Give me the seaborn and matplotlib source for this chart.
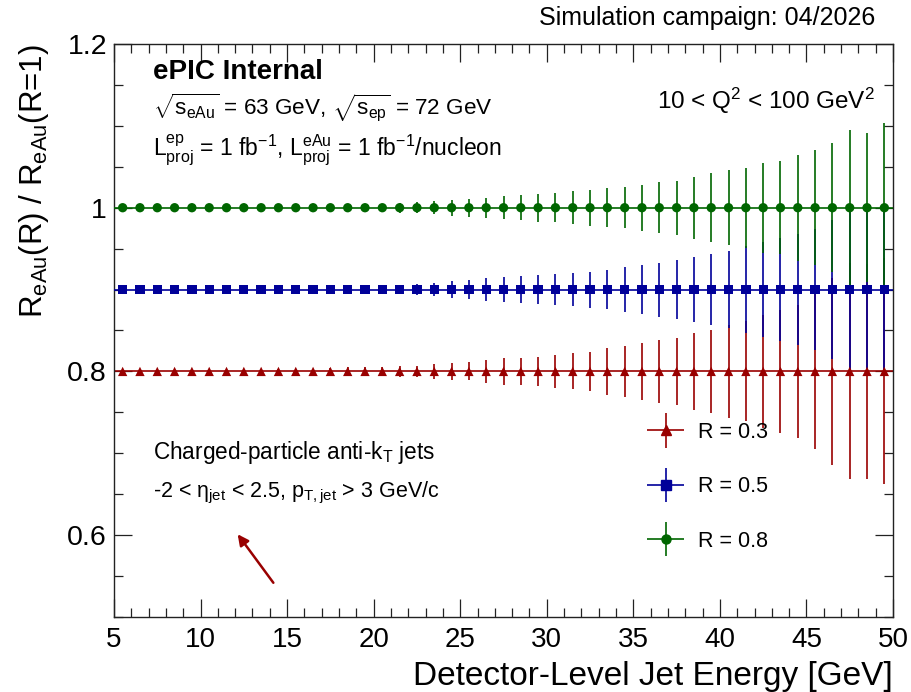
import numpy as np
import pandas as pd
import matplotlib
matplotlib.use("Agg")
import matplotlib.pyplot as plt
import seaborn as sns
from matplotlib.ticker import MultipleLocator, FixedLocator, FuncFormatter
from matplotlib.legend_handler import HandlerErrorbar
from matplotlib.container import ErrorbarContainer

# ---------------- data ----------------
energy = [5.5, 6.5, 7.5, 8.5, 9.5, 10.5, 11.5, 12.5, 13.5, 14.5, 15.5, 16.5, 17.5, 18.5, 19.5,
          20.5, 21.5, 22.5, 23.5, 24.5, 25.5, 26.5, 27.5, 28.5, 29.5, 30.5, 31.5, 32.5, 33.5, 34.5,
          35.5, 36.5, 37.5, 38.5, 39.5, 40.5, 41.5, 42.5, 43.5, 44.5, 45.5, 46.5, 47.5, 48.5, 49.5]

ratio_r03 = [0.8, 0.8, 0.8, 0.8, 0.8, 0.8, 0.8, 0.8, 0.8, 0.8, 0.8, 0.8, 0.8, 0.8, 0.8,
             0.8, 0.8, 0.8, 0.8, 0.8, 0.8, 0.8, 0.8, 0.8, 0.8, 0.8, 0.8, 0.8, 0.8, 0.8,
             0.8, 0.8, 0.8, 0.8, 0.8, 0.8, 0.8, 0.8, 0.8, 0.8, 0.8, 0.8, 0.8, 0.8, 0.8]
ratio_r05 = [0.9, 0.9, 0.9, 0.9, 0.9, 0.9, 0.9, 0.9, 0.9, 0.9, 0.9, 0.9, 0.9, 0.9, 0.9,
             0.9, 0.9, 0.9, 0.9, 0.9, 0.9, 0.9, 0.9, 0.9, 0.9, 0.9, 0.9, 0.9, 0.9, 0.9,
             0.9, 0.9, 0.9, 0.9, 0.9, 0.9, 0.9, 0.9, 0.9, 0.9, 0.9, 0.9, 0.9, 0.9, 0.9]
ratio_r08 = [1.0, 1.0, 1.0, 1.0, 1.0, 1.0, 1.0, 1.0, 1.0, 1.0, 1.0, 1.0, 1.0, 1.0, 1.0,
             1.0, 1.0, 1.0, 1.0, 1.0, 1.0, 1.0, 1.0, 1.0, 1.0, 1.0, 1.0, 1.0, 1.0, 1.0,
             1.0, 1.0, 1.0, 1.0, 1.0, 1.0, 1.0, 1.0, 1.0, 1.0, 1.0, 1.0, 1.0, 1.0, 1.0]

err_r03 = [0.001, 0.001, 0.001, 0.001, 0.001, 0.002, 0.002, 0.002, 0.002, 0.003, 0.003, 0.003, 0.004, 0.005, 0.006,
           0.006, 0.007, 0.007, 0.009, 0.010, 0.011, 0.014, 0.016, 0.017, 0.018, 0.020, 0.022, 0.024, 0.029, 0.031,
           0.035, 0.039, 0.041, 0.047, 0.051, 0.057, 0.061, 0.069, 0.075, 0.081, 0.095, 0.114, 0.132, 0.131, 0.138]
err_r05 = [0.001, 0.001, 0.001, 0.001, 0.001, 0.001, 0.002, 0.002, 0.002, 0.002, 0.003, 0.003, 0.003, 0.004, 0.004,
           0.005, 0.006, 0.007, 0.008, 0.010, 0.012, 0.014, 0.015, 0.016, 0.018, 0.019, 0.020, 0.022, 0.024, 0.027,
           0.030, 0.033, 0.036, 0.040, 0.043, 0.047, 0.053, 0.058, 0.063, 0.068, 0.074, 0.085, 0.098, 0.098, 0.100]
err_r08 = [0.001, 0.001, 0.001, 0.001, 0.001, 0.001, 0.002, 0.002, 0.002, 0.002, 0.003, 0.003, 0.003, 0.004, 0.004,
           0.005, 0.006, 0.007, 0.008, 0.010, 0.011, 0.012, 0.014, 0.015, 0.017, 0.018, 0.020, 0.022, 0.024, 0.025,
           0.028, 0.031, 0.033, 0.038, 0.042, 0.046, 0.049, 0.055, 0.057, 0.065, 0.070, 0.079, 0.095, 0.091, 0.103]

bin_half_width = [0.5] * len(energy)

series_labels = ["R = 0.3", "R = 0.5", "R = 0.8"]
series_colors = ["#990000", "#000099", "#006600"]
series_markers = ["^", "s", "o"]

x_ticks = [5, 10, 15, 20, 25, 30, 35, 40, 45, 50]
y_ticks = [0.6, 0.8, 1.0, 1.2]

# ---------------- style ----------------
sns.set_theme(style="ticks")
plt.rcParams["font.family"] = ["Liberation Sans", "DejaVu Sans"]
plt.rcParams["mathtext.fontset"] = "custom"
plt.rcParams["mathtext.rm"] = "Liberation Sans"
plt.rcParams["mathtext.it"] = "Liberation Sans"
plt.rcParams["mathtext.bf"] = "Liberation Sans:bold"
plt.rcParams["mathtext.sf"] = "Liberation Sans"
plt.rcParams["text.color"] = "black"
plt.rcParams["axes.labelcolor"] = "black"
plt.rcParams["xtick.color"] = "black"
plt.rcParams["ytick.color"] = "black"

W, H = 912, 692
fig = plt.figure(figsize=(W / 100, H / 100), dpi=100)
ax = fig.add_axes([114 / W, 1 - 617 / H, (893 - 114) / W, (617 - 44) / H])

def fx(px):
    return px / W

def fy(py):
    return 1 - py / H

# long-form table for seaborn
frames = []
for lab, vals, errs in zip(series_labels, [ratio_r03, ratio_r05, ratio_r08], [err_r03, err_r05, err_r08]):
    frames.append(pd.DataFrame({"energy": energy, "ratio": vals, "err": errs, "xerr": bin_half_width, "series": lab}))
df = pd.concat(frames, ignore_index=True)

# error bars (horizontal bin width + vertical uncertainties)
for i, (lab, col) in enumerate(zip(series_labels, series_colors)):
    sub = df[df["series"] == lab]
    ax.errorbar(sub["energy"], sub["ratio"], xerr=sub["xerr"], yerr=sub["err"],
                fmt="none", ecolor=col, elinewidth=1.2, capsize=0, zorder=2 + i)

# markers via seaborn
sns.scatterplot(data=df, x="energy", y="ratio", hue="series", style="series",
                palette=dict(zip(series_labels, series_colors)),
                markers=dict(zip(series_labels, series_markers)),
                s=45, linewidth=0, legend=False, ax=ax, zorder=6)

# legend proxies
handles = []
for lab, col, mk in zip(series_labels, series_colors, series_markers):
    h = ax.errorbar([np.nan], [np.nan], xerr=[0.5], yerr=[0.05], fmt=mk, color=col,
                    ecolor=col, elinewidth=1.2, markersize=6.5, capsize=0, label=lab)
    handles.append(h)
leg = ax.legend(handles, series_labels, loc="upper left",
                bbox_to_anchor=(fx(644), fy(422)), bbox_transform=fig.transFigure,
                frameon=False, fontsize=15.5, handlelength=2.0, handletextpad=0.5,
                labelspacing=1.55, borderpad=0, borderaxespad=0,
                handler_map={ErrorbarContainer: HandlerErrorbar(xerr_size=0.85, yerr_size=0.8)})

# axes
ax.set_xlim(5, 50)
ax.set_ylim(0.5, 1.2)
ax.xaxis.set_major_locator(FixedLocator(x_ticks))
ax.xaxis.set_minor_locator(MultipleLocator(1))
ax.yaxis.set_major_locator(FixedLocator(y_ticks))
ax.yaxis.set_minor_locator(MultipleLocator(0.05))
ax.yaxis.set_major_formatter(FuncFormatter(lambda v, p: "%g" % v))
ax.tick_params(which="both", direction="in", top=True, right=True, color="#222222", width=0.9)
ax.tick_params(which="major", length=13)
ax.tick_params(which="minor", length=6.5)
ax.tick_params(axis="x", which="major", labelsize=20, pad=7)
ax.tick_params(axis="y", which="major", labelsize=20.5, pad=5)
for sp in ax.spines.values():
    sp.set_linewidth(1.0)
    sp.set_color("#222222")
ax.set_xlabel("Detector-Level Jet Energy [GeV]", fontsize=24, loc="right", labelpad=6)
ax.set_ylabel(r"R$_{\mathrm{eAu}}$(R) / R$_{\mathrm{eAu}}$(R=1)", fontsize=22.5, loc="top", labelpad=12)

# annotations
fig.text(fx(875), fy(18), "Simulation campaign: 04/2026", fontsize=18, ha="right", va="center")
fig.text(fx(153), fy(72), "ePIC Internal", fontsize=20, fontweight="bold", ha="left", va="center")
fig.text(fx(153), fy(108), r"$\sqrt{\mathrm{s}_{\mathrm{eAu}}}$ = 63 GeV, $\sqrt{\mathrm{s}_{\mathrm{ep}}}$ = 72 GeV",
         fontsize=16.2, ha="left", va="center")
fig.text(fx(153), fy(150),
         r"$\mathrm{L}^{\mathrm{ep}}_{\mathrm{proj}}$ = 1 fb$^{\mathrm{-1}}$, $\mathrm{L}^{\mathrm{eAu}}_{\mathrm{proj}}$ = 1 fb$^{\mathrm{-1}}$/nucleon",
         fontsize=16.5, ha="left", va="center")
fig.text(fx(875), fy(101), r"10 < Q$^{2}$ < 100 GeV$^{2}$", fontsize=17.5, ha="right", va="center")
fig.text(fx(153), fy(452), r"Charged-particle anti-k$_{\mathrm{T}}$ jets", fontsize=16.3, ha="left", va="center")
fig.text(fx(153), fy(493), r"-2 < $\eta_{\mathrm{jet}}$ < 2.5, p$_{\mathrm{T,jet}}$ > 3 GeV/c",
         fontsize=15.5, ha="left", va="center")

ax.annotate("", xy=(fx(236), fy(532)), xycoords="figure fraction",
            xytext=(fx(275), fy(585)), textcoords="figure fraction",
            arrowprops=dict(arrowstyle="-|>", color="#990000", lw=1.8, mutation_scale=16))

fig.savefig("out.png", dpi=100)
